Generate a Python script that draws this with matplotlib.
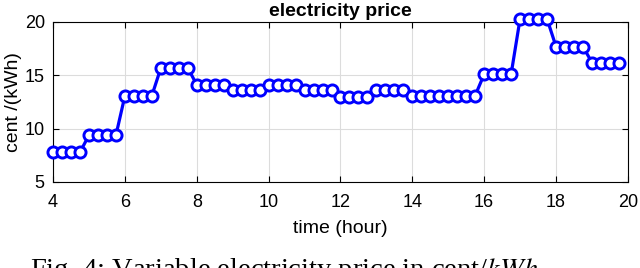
import matplotlib
matplotlib.use('Agg')
import matplotlib.pyplot as plt
import numpy as np

# hourly price levels (cent/kWh), each held for four 15-min slots
hours = [4, 5, 6, 7, 8, 9, 10, 11, 12, 13, 14, 15, 16, 17, 18, 19]
price_per_hour = [7.8, 9.4, 13.1, 15.7, 14.1, 13.6, 14.1, 13.6,
                  13.0, 13.6, 13.1, 13.1, 15.1, 20.3, 17.7, 16.2]
quarters = [0, 0.25, 0.5, 0.75]

t = [h + q for h in hours for q in quarters]
price = [p for p in price_per_hour for q in quarters]

plt.rcParams['font.family'] = ['Liberation Sans', 'DejaVu Sans']
plt.rcParams['mathtext.fontset'] = 'stix'

fig = plt.figure(figsize=(6.4, 2.68), dpi=100)
ax = fig.add_axes([0.083, 0.321, 0.898, 0.597])

ax.plot(t, price, '-o', color='#0000ff', lw=2.3, ms=8, mew=2.1,
        mfc='white', clip_on=False, zorder=3)

ax.set_xlim(4, 20)
ax.set_ylim(5, 20)
ax.set_xticks(np.arange(4, 21, 2))
ax.set_yticks([5, 10, 15, 20])
ax.grid(True, color='#dcdcdc', lw=0.8)
ax.set_axisbelow(True)
ax.tick_params(direction='in', top=True, right=True, labelsize=13, length=4)
ax.tick_params(axis='x', pad=9)
ax.tick_params(axis='y', pad=6)
for s in ax.spines.values():
    s.set_linewidth(0.8)

ax.set_title('electricity price', fontsize=14, fontweight='bold', pad=4)
ax.set_xlabel('time (hour)', fontsize=14, labelpad=6)
ax.set_ylabel('cent /(kWh)', fontsize=14, labelpad=2)

fig.text(0.047, 0.045, 'Fig. 4: Variable electricity price in cent/$kWh$.',
         family=['Liberation Serif', 'DejaVu Serif'], fontsize=20.5, va='top')

fig.savefig('out.png', dpi=100)
